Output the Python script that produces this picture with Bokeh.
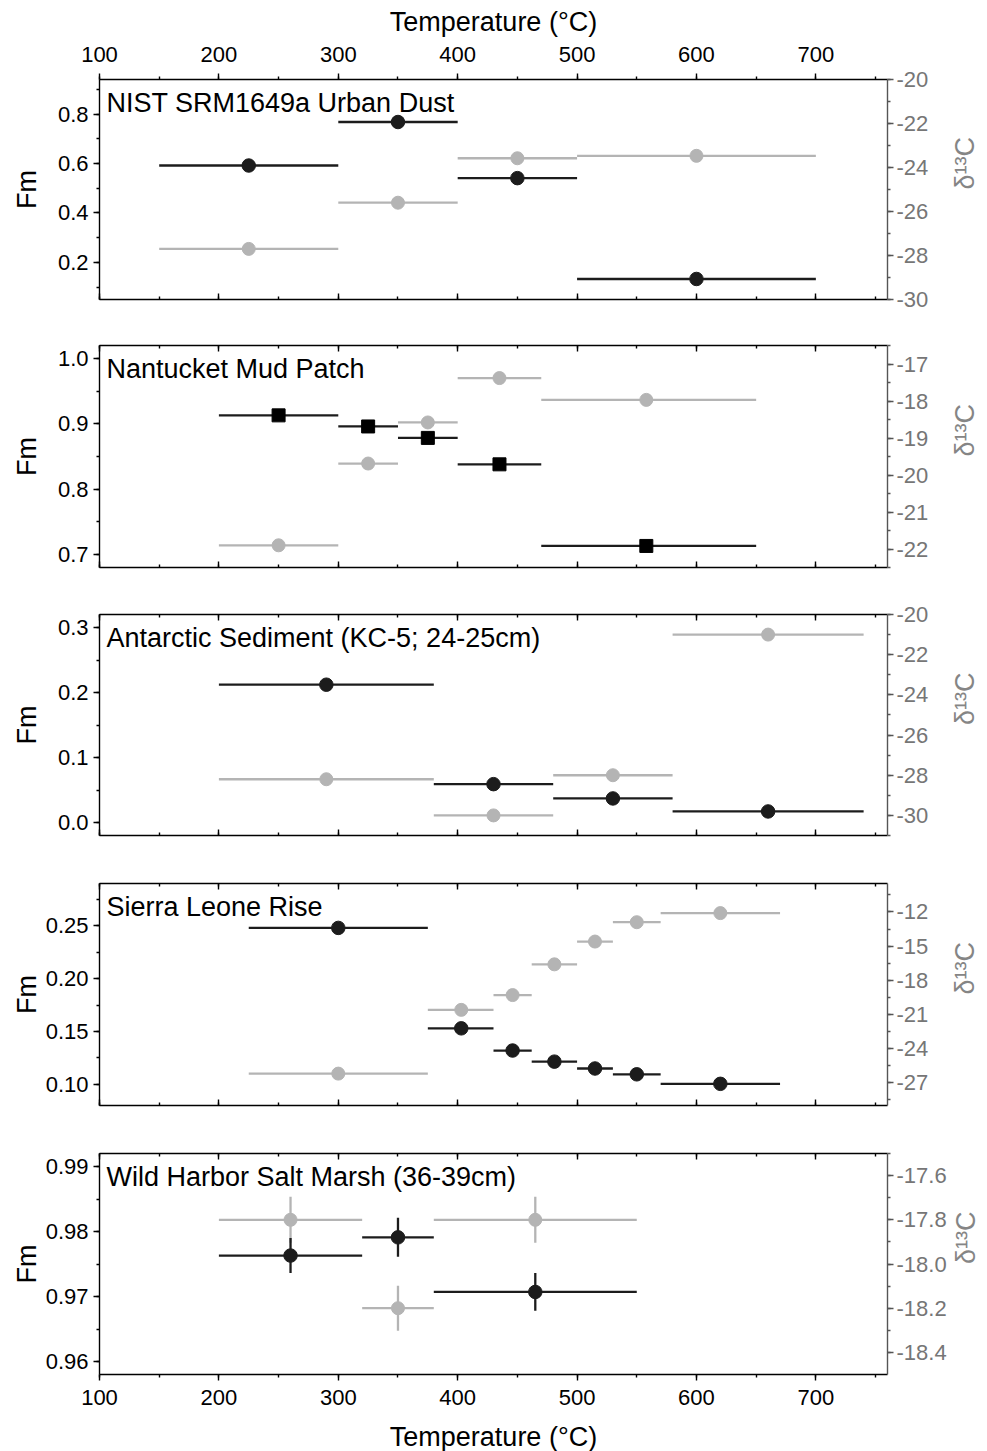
import math
from bokeh.plotting import figure
from bokeh.models import (LinearAxis, Range1d, SingleIntervalTicker, PrintfTickFormatter,
                          Label, ColumnDataSource, CustomJSTickFormatter)
from bokeh.layouts import column
from bokeh.embed import file_html
from bokeh.resources import INLINE

FONT = "Liberation Sans"
BLACK = "#1c1c1c"
GRAY = "#b4b4b4"
RAXIS = "#555555"
RLABEL = "#767676"
RTITLE = "#858585"
TICK_FS = "22px"
TITLE_FS = "27px"

x_title = "Temperature (°C)"
fm_title = "Fm"
d_title = "δ¹³C"
x_start, x_end = 100, 760

# ---- Panel 1: NIST SRM1649a Urban Dust ----
nist_label = "NIST SRM1649a Urban Dust"
nist_lo = [150, 300, 400, 500]
nist_hi = [300, 400, 500, 700]
nist_mid = [225, 350, 450, 600]
nist_fm = [0.592, 0.768, 0.541, 0.133]
nist_d13c = [-27.7, -25.6, -23.58, -23.47]

# ---- Panel 2: Nantucket Mud Patch ----
nant_label = "Nantucket Mud Patch"
nant_lo = [200, 300, 350, 400, 470]
nant_hi = [300, 350, 400, 470, 650]
nant_mid = [250, 325, 375, 435, 558]
nant_fm = [0.913, 0.896, 0.8785, 0.838, 0.713]
nant_d13c = [-21.9, -19.69, -18.58, -17.38, -17.97]

# ---- Panel 3: Antarctic Sediment ----
ant_label = "Antarctic Sediment (KC-5; 24-25cm)"
ant_lo = [200, 380, 480, 580]
ant_hi = [380, 480, 580, 740]
ant_mid = [290, 430, 530, 660]
ant_fm = [0.212, 0.059, 0.037, 0.017]
ant_d13c = [-28.2, -30.0, -28.0, -21.0]

# ---- Panel 4: Sierra Leone Rise ----
slr_label = "Sierra Leone Rise"
slr_lo = [225, 375, 430, 462, 500, 530, 570]
slr_hi = [375, 430, 462, 500, 530, 570, 670]
slr_mid = [300, 403, 446, 481, 515, 550, 620]
slr_fm = [0.248, 0.153, 0.132, 0.1215, 0.115, 0.1095, 0.1005]
slr_d13c = [-26.2, -20.6, -19.3, -16.6, -14.6, -12.9, -12.1]

# ---- Panel 5: Wild Harbor Salt Marsh ----
wh_label = "Wild Harbor Salt Marsh (36-39cm)"
wh_lo = [200, 320, 380]
wh_hi = [320, 380, 550]
wh_mid = [260, 350, 465]
wh_fm = [0.9763, 0.9791, 0.9707]
wh_fm_err = [0.0027, 0.003, 0.0029]
wh_d13c = [-17.8, -18.2, -17.8]
wh_d13c_err = [0.104, 0.102, 0.104]


def style_axis(ax, color, label_color, major_in, major_out, minor_in, minor_out,
               show_labels=True, title=None, title_color="black"):
    ax.axis_line_color = color
    ax.axis_line_width = 1.4
    ax.major_tick_line_color = color
    ax.minor_tick_line_color = color
    ax.major_tick_line_width = 1.4
    ax.minor_tick_line_width = 1.4
    ax.major_tick_in = major_in
    ax.major_tick_out = major_out
    ax.minor_tick_in = minor_in
    ax.minor_tick_out = minor_out
    ax.major_label_text_font = FONT
    ax.major_label_text_color = label_color
    ax.major_label_standoff = 5
    if show_labels:
        ax.major_label_text_font_size = TICK_FS
    else:
        ax.formatter = CustomJSTickFormatter(code="return ''")
        ax.major_label_text_font_size = "0px"
        ax.major_label_standoff = 0
    if title is not None:
        ax.axis_label = title
        ax.axis_label_text_font = FONT
        ax.axis_label_text_font_size = TITLE_FS
        ax.axis_label_text_font_style = "normal"
        ax.axis_label_text_color = title_color


def make_panel(name, lo, hi, mid, fm, d13c, marker, fm_range, d_range, fm_int, d_int,
               fm_fmt, d_fmt, frame_h, top_b, bot_b, where, left_so, right_so,
               fm_err=None, d_err=None):
    p = figure(x_range=Range1d(x_start, x_end), y_range=Range1d(*fm_range),
               frame_width=788, frame_height=frame_h,
               min_border_left=99, min_border_right=92,
               min_border_top=top_b, min_border_bottom=bot_b,
               output_backend="svg", toolbar_location=None,
               x_axis_location="above" if where == "top" else "below")
    p.extra_y_ranges = {"d": Range1d(*d_range)}
    p.xgrid.grid_line_color = None
    p.ygrid.grid_line_color = None
    p.outline_line_color = None
    p.background_fill_color = "white"
    p.border_fill_color = "white"

    # main x axis
    xax = p.xaxis[0]
    xax.ticker = SingleIntervalTicker(interval=100, num_minor_ticks=2)
    if where == "top":
        style_axis(xax, "black", "black", 0, 6, 0, 3, True, x_title)
        xax.major_label_standoff = 12
        xax.axis_label_standoff = 7
        other = LinearAxis(ticker=SingleIntervalTicker(interval=100, num_minor_ticks=2))
        style_axis(other, "black", "black", 6, 0, 3, 0, False)
        p.add_layout(other, "below")
    elif where == "bottom":
        style_axis(xax, "black", "black", 0, 6, 0, 3, True, x_title)
        xax.major_label_standoff = 9
        xax.axis_label_standoff = 14
        other = LinearAxis(ticker=SingleIntervalTicker(interval=100, num_minor_ticks=2))
        style_axis(other, "black", "black", 6, 0, 3, 0, False)
        p.add_layout(other, "above")
    else:
        style_axis(xax, "black", "black", 6, 0, 3, 0, False)
        other = LinearAxis(ticker=SingleIntervalTicker(interval=100, num_minor_ticks=2))
        style_axis(other, "black", "black", 6, 0, 3, 0, False)
        p.add_layout(other, "above")

    # left axis (Fm)
    yax = p.yaxis[0]
    yax.ticker = SingleIntervalTicker(interval=fm_int, num_minor_ticks=2)
    yax.formatter = PrintfTickFormatter(format=fm_fmt)
    style_axis(yax, "black", "black", 0, 6, 0, 3, True, fm_title)
    yax.axis_label_standoff = left_so

    # right axis (d13C)
    rax = LinearAxis(y_range_name="d",
                     ticker=SingleIntervalTicker(interval=d_int, num_minor_ticks=2),
                     formatter=PrintfTickFormatter(format=d_fmt))
    style_axis(rax, RAXIS, RLABEL, 0, 6, 0, 3, True, d_title, RTITLE)
    rax.major_label_standoff = 3
    rax.axis_label_standoff = right_so
    try:
        rax.axis_label_orientation = math.pi / 2
    except Exception:
        pass
    p.add_layout(rax, "right")

    # gray: d13C
    gsrc = ColumnDataSource(dict(lo=lo, hi=hi, mid=mid, v=d13c))
    p.segment(x0="lo", x1="hi", y0="v", y1="v", source=gsrc, y_range_name="d",
              line_color=GRAY, line_width=2.3)
    if d_err is not None:
        esrc = ColumnDataSource(dict(mid=mid, a=[v - e for v, e in zip(d13c, d_err)],
                                     b=[v + e for v, e in zip(d13c, d_err)]))
        p.segment(x0="mid", x1="mid", y0="a", y1="b", source=esrc, y_range_name="d",
                  line_color=GRAY, line_width=2.3)
    p.scatter(x="mid", y="v", source=gsrc, y_range_name="d", marker="circle", size=13,
              fill_color=GRAY, line_color=GRAY)

    # black: Fm
    bsrc = ColumnDataSource(dict(lo=lo, hi=hi, mid=mid, v=fm))
    p.segment(x0="lo", x1="hi", y0="v", y1="v", source=bsrc,
              line_color=BLACK, line_width=2.3)
    if fm_err is not None:
        esrc2 = ColumnDataSource(dict(mid=mid, a=[v - e for v, e in zip(fm, fm_err)],
                                      b=[v + e for v, e in zip(fm, fm_err)]))
        p.segment(x0="mid", x1="mid", y0="a", y1="b", source=esrc2,
                  line_color=BLACK, line_width=2.3)
    if marker == "square":
        p.scatter(x="mid", y="v", source=bsrc, marker="square", size=13,
                  fill_color="black", line_color="black")
    else:
        p.scatter(x="mid", y="v", source=bsrc, marker="circle", size=13.5,
                  fill_color=BLACK, line_color=BLACK)

    # panel title
    y0, y1 = fm_range
    ly = y1 - 8.0 * (y1 - y0) / frame_h
    lx = x_start + 7.0 * (x_end - x_start) / 788.0
    p.add_layout(Label(x=lx, y=ly, text=name, text_font=FONT, text_font_size=TITLE_FS,
                       text_color="black", text_align="left", text_baseline="top"))
    return p


p1 = make_panel(nist_label, nist_lo, nist_hi, nist_mid, nist_fm, nist_d13c, "circle",
                (0.05, 0.94), (-30, -20), 0.2, 2, "%.1f", "%.0f", 220, 79, 23, "top", 13, 34)
p2 = make_panel(nant_label, nant_lo, nant_hi, nant_mid, nant_fm, nant_d13c, "square",
                (0.68, 1.02), (-22.5, -16.5), 0.1, 1, "%.1f", "%.0f", 222, 23, 24, "mid", 13, 34)
p3 = make_panel(ant_label, ant_lo, ant_hi, ant_mid, ant_fm, ant_d13c, "circle",
                (-0.02, 0.32), (-31, -20), 0.1, 2, "%.1f", "%.0f", 221, 23, 24, "mid", 13, 34)
p4 = make_panel(slr_label, slr_lo, slr_hi, slr_mid, slr_fm, slr_d13c, "circle",
                (0.08, 0.29), (-29, -9.5), 0.05, 3, "%.2f", "%.0f", 222, 24, 24, "mid", 1, 34)
p5 = make_panel(wh_label, wh_lo, wh_hi, wh_mid, wh_fm, wh_d13c, "circle",
                (0.958, 0.992), (-18.5, -17.5), 0.01, 0.2, "%.2f", "%.1f", 221, 24, 75, "bottom", 1, 16,
                fm_err=wh_fm_err, d_err=wh_d13c_err)

layout = column(p1, p2, p3, p4, p5, spacing=0)
open("out.html", "w").write(file_html(layout, INLINE))
